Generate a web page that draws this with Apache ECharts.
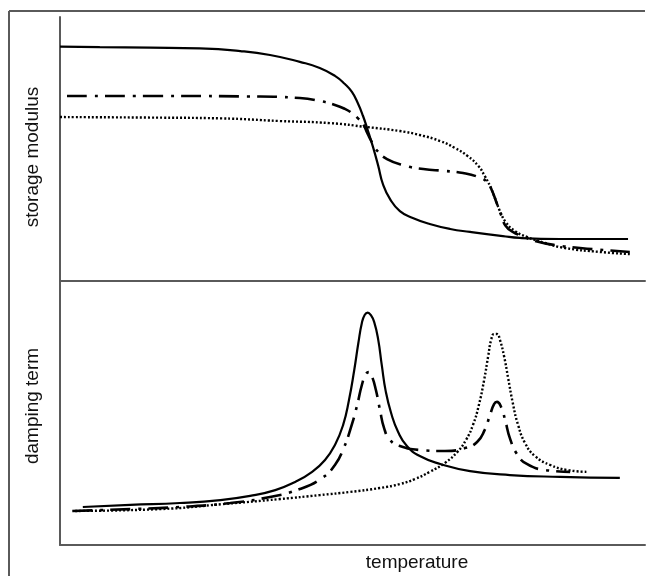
<!DOCTYPE html>
<html>
<head>
<meta charset="utf-8">
<script src="https://cdn.jsdelivr.net/npm/echarts@6/dist/echarts.min.js"></script>
<style>
  html, body { margin: 0; padding: 0; background: #fff; }
  #main { width: 649px; height: 576px; }
</style>
</head>
<body>
<div id="main"></div>
<script>
// temperature in arbitrary units (0-100), response in arbitrary units (0-100)
var storageSolid = [
  [0, 88.8], [6.8, 88.6], [15.4, 88.4], [23.9, 88.1], [30.8, 87.1], [35.9, 85.6],
  [41.0, 83.0], [44.4, 80.7], [47.0, 77.7], [48.7, 74.6], [49.9, 71.6], [50.9, 67.4],
  [51.8, 62.5], [52.6, 57.2], [53.5, 50.8], [54.4, 43.6], [55.2, 36.7], [56.4, 31.1],
  [58.1, 26.5], [60.3, 23.9], [63.2, 21.6], [66.7, 19.7], [70.1, 18.6], [75.7, 17.0],
  [78.6, 16.3], [85.5, 15.9], [97.1, 15.9]
];
var storageDashDot = [
  [1.2, 70.1], [15.4, 70.1], [32.5, 69.9], [41.0, 69.3], [44.4, 68.2], [47.0, 66.7],
  [48.7, 65.2], [49.9, 63.6], [50.9, 61.7], [51.8, 59.5], [52.6, 55.7], [53.5, 51.9],
  [54.4, 48.9], [55.9, 46.2], [58.6, 43.9], [62.1, 42.4], [65.8, 41.7], [68.9, 40.9],
  [71.5, 39.4], [73.0, 37.5], [73.8, 34.5], [74.7, 29.2], [75.4, 25.0], [76.2, 20.8],
  [77.4, 18.6], [79.0, 17.0], [81.2, 15.2], [84.6, 13.6], [88.9, 12.5], [93.2, 11.7],
  [97.4, 11.0]
];
var storageDotted = [
  [0, 62.1], [15.4, 61.9], [27.4, 61.6], [37.6, 60.6], [46.2, 59.8], [52.5, 58.3],
  [58.1, 56.8], [61.5, 55.3], [65.0, 53.0], [67.5, 50.4], [69.7, 47.3], [71.5, 43.6],
  [72.6, 39.8], [73.5, 36.0], [74.4, 31.1], [75.2, 26.5], [76.2, 22.3], [77.8, 18.9],
  [79.8, 16.7], [82.9, 14.4], [86.3, 12.5], [92.3, 11.0], [97.4, 10.2]
];
var dampSolid = [
  [3.9, 14.4], [12.0, 15.2], [20.5, 15.9], [27.4, 17.0], [32.5, 18.6], [36.8, 20.8],
  [40.2, 23.9], [43.1, 27.7], [45.3, 32.2], [47.0, 37.9], [48.4, 45.5], [49.4, 54.9],
  [50.3, 66.3], [51.0, 76.5], [51.6, 84.1], [52.1, 87.2], [52.6, 88.0], [53.1, 87.2],
  [53.7, 84.5], [54.4, 77.7], [55.0, 68.2], [55.7, 58.0], [56.6, 50.0], [57.8, 42.8],
  [59.3, 37.5], [61.5, 33.7], [65.0, 30.7], [70.1, 28.0], [76.9, 26.5], [85.5, 25.8],
  [95.7, 25.4]
];
var dampDashDot = [
  [2.1, 12.9], [12.0, 13.6], [20.5, 14.4], [29.1, 15.9], [35.9, 18.2], [41.0, 21.2],
  [44.8, 25.4], [47.0, 30.3], [48.5, 36.7], [49.7, 44.3], [50.8, 53.0], [51.6, 60.6],
  [52.3, 64.8], [52.8, 65.5], [53.3, 64.0], [54.0, 58.7], [54.7, 51.1], [55.4, 44.3],
  [56.4, 39.8], [58.1, 37.5], [61.5, 36.0], [65.8, 35.6], [69.2, 36.7], [71.3, 39.0],
  [72.6, 43.6], [73.5, 49.2], [74.2, 53.4], [74.7, 54.2], [75.4, 52.3], [76.1, 47.3],
  [76.9, 40.5], [78.1, 34.5], [79.8, 30.7], [82.9, 28.4], [87.2, 27.7]
];
var dampDotted = [
  [2.6, 12.9], [17.1, 13.6], [27.9, 15.5], [37.6, 17.4], [44.4, 18.9], [49.6, 20.1],
  [54.7, 21.6], [58.1, 23.1], [60.7, 25.0], [63.2, 27.7], [65.8, 31.1], [67.9, 35.2],
  [69.4, 39.8], [70.6, 45.5], [71.6, 53.0], [72.5, 62.5], [73.2, 71.6], [73.7, 77.7],
  [74.2, 79.9], [74.7, 79.9], [75.2, 77.7], [75.9, 71.6], [76.6, 63.3], [77.4, 53.8],
  [78.3, 45.5], [79.5, 38.6], [81.2, 33.7], [83.8, 30.3], [86.7, 28.4], [90.3, 27.7]
];
var yNames = ['storage modulus', 'damping term'];
var xName = 'temperature';

var chartDom = document.getElementById('main');
var myChart = echarts.init(chartDom);

var axisGrey = '#5a5a5a';
var font = 'Liberation Sans, Arial, sans-serif';

function xAx(idx) {
  return {
    type: 'value', gridIndex: idx, min: 0, max: 100,
    axisLine: { show: true, onZero: false, lineStyle: { color: axisGrey, width: 2 } },
    axisTick: { show: false }, axisLabel: { show: false }, splitLine: { show: false }
  };
}
function yAx(idx) {
  return {
    type: 'value', gridIndex: idx, min: 0, max: 100,
    axisLine: { show: true, onZero: false, lineStyle: { color: axisGrey, width: 2 } },
    axisTick: { show: false }, axisLabel: { show: false }, splitLine: { show: false }
  };
}
function line(data, idx, type, width) {
  return {
    type: 'line', xAxisIndex: idx, yAxisIndex: idx, data: data,
    smooth: 0.5, symbol: 'none', animation: false,
    lineStyle: { color: '#000', width: width, type: type, cap: 'butt' }
  };
}
function label(text, x, y, rot) {
  return {
    type: 'text', x: x, y: y, rotation: rot,
    style: { text: text, fontSize: 19, fill: '#111', fontFamily: font, align: 'center', verticalAlign: 'middle' }
  };
}

var dashDot = [20, 8, 3, 7];
var dots = [2, 2];

var option = {
  animation: false,
  grid: [
    { left: 60, right: 4, top: 17, height: 264 },
    { left: 60, right: 4, top: 281, height: 264 }
  ],
  xAxis: [xAx(0), xAx(1)],
  yAxis: [yAx(0), yAx(1)],
  graphic: [
    { type: 'line', shape: { x1: 9, y1: 11, x2: 645, y2: 11 }, style: { stroke: axisGrey, lineWidth: 2 } },
    { type: 'line', shape: { x1: 9, y1: 11, x2: 9, y2: 576 }, style: { stroke: axisGrey, lineWidth: 2 } },
    label(yNames[0], 33, 157, Math.PI / 2),
    label(yNames[1], 33, 406, Math.PI / 2),
    label(xName, 417, 563, 0)
  ],
  series: [
    line(storageSolid, 0, 'solid', 2.2),
    line(storageDashDot, 0, dashDot, 2.6),
    line(storageDotted, 0, dots, 2.4),
    line(dampSolid, 1, 'solid', 2.2),
    line(dampDashDot, 1, dashDot, 2.6),
    line(dampDotted, 1, dots, 2.4)
  ]
};
myChart.setOption(option);
</script>
</body>
</html>
